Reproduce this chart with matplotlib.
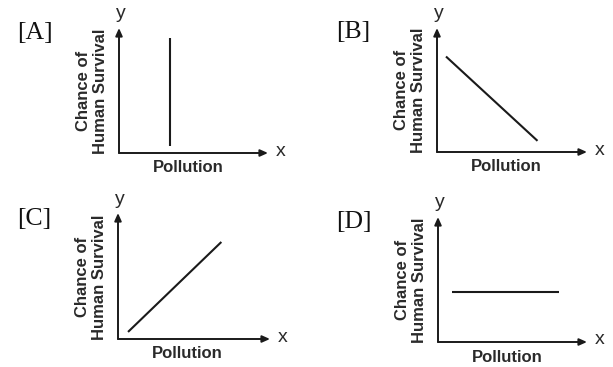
import matplotlib
matplotlib.use("Agg")
import matplotlib.pyplot as plt

W, H = 613, 367
DPI = 100

# Panel letters and the curve drawn in each (data units on a 0-10 grid)
panels = ["[A]", "[B]", "[C]", "[D]"]
curve_x = [[3.4, 3.4], [0.6, 6.7], [0.66, 6.8], [0.94, 8.1]]
curve_y = [[0.6, 9.2], [7.7, 0.9], [0.56, 7.7], [4.0, 4.0]]

x_label = "Pollution"
y_label = "Chance of\nHuman Survival"

# Axis origin (px from left, px from top), x-arrow tip and y-arrow tip
frames = [
    (119, 153, 268, 28),
    (437, 152, 587, 28),
    (118, 339, 270, 213),
    (438, 342, 587, 217),
]

ink = "#1a1a1a"
fig = plt.figure(figsize=(W / DPI, H / DPI), dpi=DPI)
fig.patch.set_facecolor("white")


def fx(px):
    return px / W


def fy(py):
    return 1 - py / H


for name, xs, ys, (ox, oy, xe, yt) in zip(panels, curve_x, curve_y, frames):
    ax = fig.add_axes([fx(ox), fy(oy), (xe - ox) / W, (oy - yt) / H])
    ax.set_xlim(0, 10)
    ax.set_ylim(0, 10)
    ax.axis("off")
    arrow = dict(arrowstyle="-|>,head_length=0.45,head_width=0.2",
                 color=ink, lw=1.4, shrinkA=0, shrinkB=0)
    ax.annotate("", xy=(10, 0), xytext=(0, 0), arrowprops=arrow,
                annotation_clip=False)
    ax.annotate("", xy=(0, 10), xytext=(0, 0), arrowprops=arrow,
                annotation_clip=False)
    ax.plot(xs, ys, color=ink, lw=1.5, solid_capstyle="butt")

    fig.text(fx(ox - 84), fy(oy - 120), name, family="Liberation Serif",
             fontsize=18.5, ha="center", va="center", color="#111111")
    fig.text(fx(ox - 27), fy(oy - 62), y_label, family="Liberation Sans",
             fontweight="bold", fontsize=12, rotation=90, ha="center",
             va="center", linespacing=1.12, color="#2a2a2a")
    fig.text(fx(ox + 69), fy(oy + 15), x_label, family="Liberation Sans",
             fontweight="bold", fontsize=12, ha="center", va="center",
             color="#2a2a2a")
    fig.text(fx(ox + 2), fy(yt - 14), "y", family="Liberation Sans",
             fontsize=14, ha="center", va="center", color="#2a2a2a")
    fig.text(fx(xe + 13), fy(oy - 2), "x", family="Liberation Sans",
             fontsize=14, ha="center", va="center", color="#2a2a2a")

fig.savefig("out.png", dpi=DPI, facecolor="white")
